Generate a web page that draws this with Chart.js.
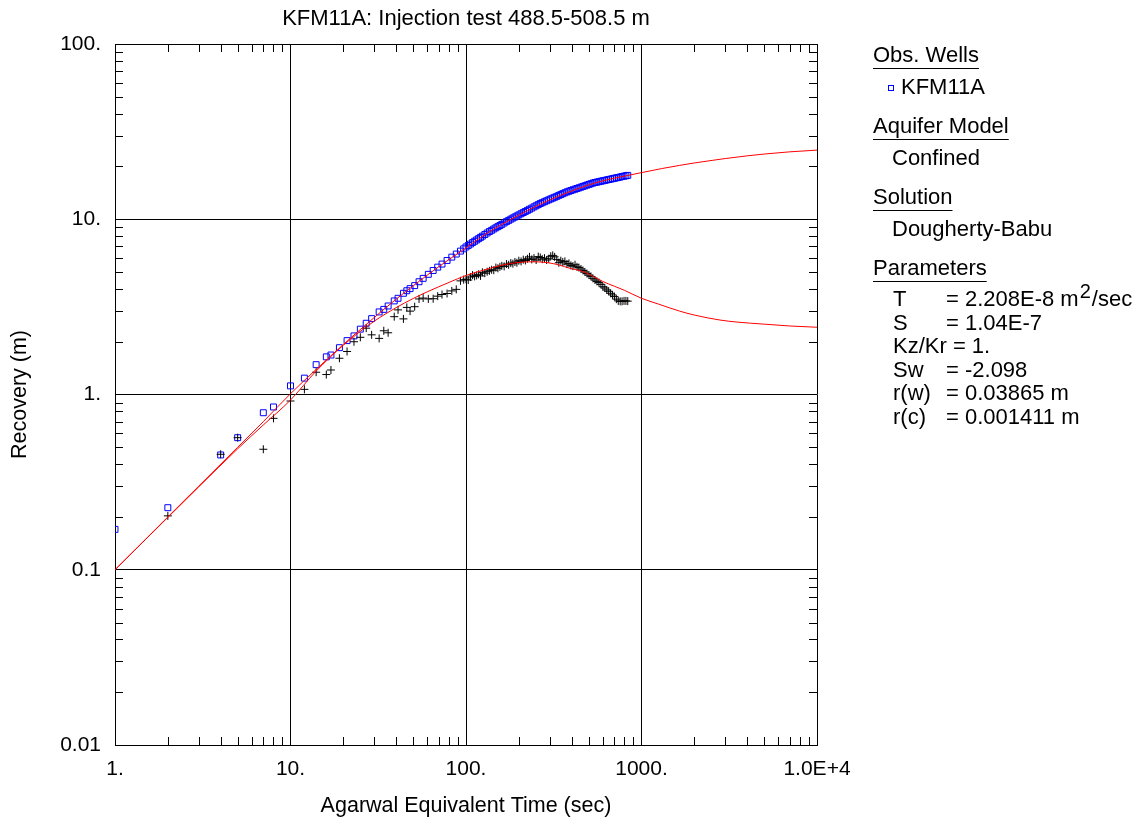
<!DOCTYPE html>
<html><head><meta charset="utf-8">
<script src="https://cdn.jsdelivr.net/npm/chart.js@4.4.1/dist/chart.umd.min.js"></script>
<style>html,body{margin:0;padding:0;background:#fff}canvas{display:block}</style>
</head><body>
<canvas id="c" width="1141" height="823"></canvas>
<script>
const chartTitle = 'KFM11A: Injection test 488.5-508.5 m';
const xTitle = 'Agarwal Equivalent Time (sec)';
const yTitle = 'Recovery (m)';
const xMajor = [1, 10, 100, 1000, 10000];
const xMajorLabels = ['1.', '10.', '100.', '1000.', '1.0E+4'];
const yMajor = [0.01, 0.1, 1, 10, 100];
const yMajorLabels = ['0.01', '0.1', '1.', '10.', '100.'];

const timeObs = [1,2,4,5,7,8,10,12,14,16,17,19,21,23,25,27,29,32,34,36,39,41,44,46,48,51,54,57,61,65,69,73,78,83,88,93,97,
100,103,106,109,112,115,118,121,124,128,132,136,140,144,148,152,156,160,165,170,175,180,185,190,195,200,206,212,218,224,230,237,244,251,258,265,272,280,288,296,304,312,320,329,338,347,356,366,376,386,396,407,418,429,440,452,464,476,489,502,515,529,543,557,572,587,602,618,634,650,667,684,701,719,737,756,775,795,815,835];

const recoveryObs = [0.170,0.226,0.452,0.567,0.787,0.849,1.12,1.24,1.48,1.64,1.68,1.85,2.03,2.16,2.36,2.55,2.71,2.96,3.06,3.20,3.42,3.54,3.78,3.91,4.02,4.18,4.40,4.60,4.85,5.10,5.33,5.55,5.82,6.08,6.33,6.58,6.78,
6.95,7.09,7.22,7.36,7.49,7.62,7.75,7.88,8.01,8.18,8.35,8.51,8.65,8.80,8.94,9.08,9.21,9.35,9.52,9.69,9.85,10.01,10.16,10.30,10.44,10.59,10.75,10.92,11.08,11.24,11.40,11.58,11.77,11.94,12.12,12.29,12.43,12.59,12.75,12.90,13.06,13.20,13.35,13.51,13.68,13.83,13.99,14.16,14.32,14.45,14.58,14.72,14.85,14.98,15.11,15.25,15.39,15.52,15.67,15.81,15.94,16.09,16.20,16.29,16.38,16.48,16.57,16.66,16.76,16.85,16.94,17.04,17.13,17.23,17.32,17.42,17.52,17.61,17.71,17.80];

const derivObs = [null,0.203,0.456,0.567,0.487,0.731,0.918,1.07,1.34,1.30,1.38,1.61,1.76,2.00,2.12,2.39,2.19,2.09,2.31,2.25,2.78,3.04,2.70,3.14,2.99,3.17,3.51,3.55,3.51,3.52,3.64,3.72,3.77,3.90,3.98,4.45,4.52,
4.55,4.50,4.68,4.80,4.72,4.78,4.85,4.75,4.98,4.92,5.02,5.08,5.15,5.12,5.30,5.25,5.35,5.42,5.38,5.55,5.50,5.62,5.58,5.70,5.65,5.80,5.75,5.88,5.82,5.95,6.10,5.90,6.00,5.85,6.12,6.05,5.92,6.00,5.85,5.95,6.15,6.22,6.10,5.90,5.65,5.80,5.70,5.75,5.55,5.60,5.45,5.40,5.50,5.35,5.30,5.20,5.10,5.00,4.90,4.80,4.72,4.60,4.50,4.42,4.35,4.25,4.12,4.05,3.95,3.88,3.78,3.70,3.62,3.50,3.42,3.40,3.40,3.42,3.42,3.41];

const timeFitRec = [1,2,3,5,7,10,14,20,30,40,50,60,70,80,100,130,160,200,250,300,400,500,600,700,838,1000,1300,1650,2000,2550,3000,4000,5000,7000,10000];
const recoveryFit = [0.100,0.200,0.300,0.500,0.700,1.01,1.39,1.93,2.75,3.50,4.17,4.79,5.36,5.89,6.87,8.25,9.35,10.55,11.85,12.90,14.50,15.70,16.55,17.15,17.80,18.45,19.45,20.30,20.95,21.70,22.20,23.00,23.55,24.25,24.80];

const timeFitDer = [1,2,3,5,7,10,14,20,30,40,50,60,70,80,100,130,160,200,240,290,340,390,450,500,600,700,800,1000,1250,1650,2000,2800,3500,5000,7000,10000];
const derivFit = [0.100,0.199,0.297,0.49,0.67,0.93,1.36,1.91,2.62,3.13,3.53,3.85,4.12,4.36,4.78,5.17,5.47,5.67,5.72,5.66,5.48,5.25,5.08,4.87,4.42,4.15,3.93,3.54,3.28,2.99,2.84,2.66,2.59,2.52,2.46,2.42];

const FONT = '"Liberation Sans", Arial, Helvetica, sans-serif';
Chart.defaults.font.family = FONT;
Chart.defaults.color = '#000';

function isDecade(v) { const l = Math.log10(v); return Math.abs(l - Math.round(l)) < 1e-6; }
function decadeTicks(majors) {
  const out = [];
  for (let i = 0; i < majors.length; i++) {
    out.push(majors[i]);
    if (i < majors.length - 1) for (let k = 2; k <= 9; k++) out.push(majors[i] * k);
  }
  return out;
}
function labelFor(v, majors, labels) {
  for (let i = 0; i < majors.length; i++) {
    if (Math.abs(Math.log10(v) - Math.log10(majors[i])) < 1e-6) return labels[i];
  }
  return '';
}
function pts(xs, ys) {
  const out = [];
  for (let i = 0; i < xs.length; i++) if (ys[i] !== null) out.push({x: xs[i], y: ys[i]});
  return out;
}
const xTicksAll = decadeTicks(xMajor);
const yTicksAll = decadeTicks(yMajor);

const decor = {
  id: 'decor',
  afterDraw(chart) {
    const {ctx, chartArea: a, scales: {x, y}} = chart;
    ctx.save();
    ctx.strokeStyle = '#000';
    ctx.lineWidth = 1;
    ctx.beginPath();
    const L = 8;
    for (const v of xTicksAll) if (!isDecade(v)) {
      const px = Math.round(x.getPixelForValue(v)) + 0.5;
      ctx.moveTo(px, a.bottom); ctx.lineTo(px, a.bottom - L);
      ctx.moveTo(px, a.top); ctx.lineTo(px, a.top + L);
    }
    for (const v of yTicksAll) if (!isDecade(v)) {
      const py = Math.round(y.getPixelForValue(v)) + 0.5;
      ctx.moveTo(a.left, py); ctx.lineTo(a.left + L, py);
      ctx.moveTo(a.right, py); ctx.lineTo(a.right - L, py);
    }
    ctx.stroke();

    ctx.fillStyle = '#000';
    ctx.textBaseline = 'middle';
    ctx.textAlign = 'center';
    ctx.font = '22px ' + FONT;
    ctx.fillText(chartTitle, (a.left + a.right) / 2, 19);

    ctx.textAlign = 'left';
    const heading = (t, xx, yy) => {
      ctx.fillText(t, xx, yy);
      const w = ctx.measureText(t).width;
      ctx.fillRect(xx, yy + 12, w, 1);
    };
    heading('Obs. Wells', 873, 56);
    ctx.strokeStyle = '#0000ff';
    ctx.strokeRect(888.5, 85.5, 5, 5);
    ctx.fillText('KFM11A', 901, 88);
    heading('Aquifer Model', 873, 127);
    ctx.fillText('Confined', 892, 159);
    heading('Solution', 873, 198);
    ctx.fillText('Dougherty-Babu', 892, 230);
    heading('Parameters', 873, 269);

    const eqX = 946;
    ctx.fillText('T', 893, 300);
    const s1 = '= 2.208E-8 m';
    ctx.fillText(s1, eqX, 300);
    const w1 = ctx.measureText(s1).width;
    ctx.font = '20px ' + FONT;
    ctx.fillText('2', eqX + w1 + 1, 292);
    const w2 = ctx.measureText('2').width;
    ctx.font = '22px ' + FONT;
    ctx.fillText('/sec', eqX + w1 + w2 + 2, 300);

    ctx.fillText('S', 893, 323.5);
    ctx.fillText('= 1.04E-7', eqX, 323.5);
    ctx.fillText('Kz/Kr = 1.', 893, 347);
    ctx.fillText('Sw', 893, 370.5);
    ctx.fillText('= -2.098', eqX, 370.5);
    ctx.fillText('r(w)', 893, 394);
    ctx.fillText('= 0.03865 m', eqX, 394);
    ctx.fillText('r(c)', 893, 417.5);
    ctx.fillText('= 0.001411 m', eqX, 417.5);
    ctx.restore();
  }
};

const gridColor = (c) => (c.tick && isDecade(c.tick.value)) ? '#000' : 'rgba(0,0,0,0)';

new Chart(document.getElementById('c'), {
  type: 'scatter',
  data: {
    datasets: [
      {
        label: 'Recovery fit', data: pts(timeFitRec, recoveryFit), showLine: true,
        borderColor: '#ff0000', borderWidth: 1, pointRadius: 0, fill: false,
        cubicInterpolationMode: 'monotone', order: 0
      },
      {
        label: 'Derivative fit', data: pts(timeFitDer, derivFit), showLine: true,
        borderColor: '#ff0000', borderWidth: 1, pointRadius: 0, fill: false,
        cubicInterpolationMode: 'monotone', order: 1
      },
      {
        label: 'KFM11A derivative', data: pts(timeObs, derivObs), showLine: false,
        pointStyle: 'cross', pointRadius: 4, borderColor: '#000', borderWidth: 1, order: 2
      },
      {
        label: 'KFM11A', data: pts(timeObs, recoveryObs), showLine: false,
        pointStyle: 'rect', pointRadius: 4.2, borderColor: '#0000ff',
        backgroundColor: 'rgba(0,0,0,0)', borderWidth: 1, order: 3
      }
    ]
  },
  options: {
    responsive: false,
    animation: false,
    devicePixelRatio: 1,
    layout: {padding: {top: 44, right: 324, left: 0, bottom: 0}},
    plugins: {legend: {display: false}, tooltip: {enabled: false}, title: {display: false}},
    scales: {
      x: {
        type: 'logarithmic', position: 'bottom', min: 1, max: 10000,
        afterBuildTicks: (s) => { s.ticks = xTicksAll.map(v => ({value: v})); },
        afterFit: (s) => { s.height = 78; },
        ticks: {autoSkip: false, maxRotation: 0, minRotation: 0, padding: 12,
                font: {size: 21}, color: '#000',
                callback: (v) => labelFor(v, xMajor, xMajorLabels)},
        grid: {color: gridColor, lineWidth: 1, drawTicks: false},
        border: {display: true, color: '#000', width: 1},
        title: {display: true, text: xTitle, color: '#000', font: {size: 21.5}, padding: {top: 0, bottom: 4}}
      },
      y: {
        type: 'logarithmic', position: 'left', min: 0.01, max: 100,
        afterBuildTicks: (s) => { s.ticks = yTicksAll.map(v => ({value: v})); },
        afterFit: (s) => { s.width = 115; },
        ticks: {autoSkip: false, padding: 14, font: {size: 21}, color: '#000',
                callback: (v) => labelFor(v, yMajor, yMajorLabels)},
        grid: {color: gridColor, lineWidth: 1, drawTicks: false},
        border: {display: true, color: '#000', width: 1},
        title: {display: true, text: yTitle, color: '#000', font: {size: 21.5}, padding: {top: 7, bottom: 0}}
      }
    }
  },
  plugins: [decor]
});
</script>
</body></html>
